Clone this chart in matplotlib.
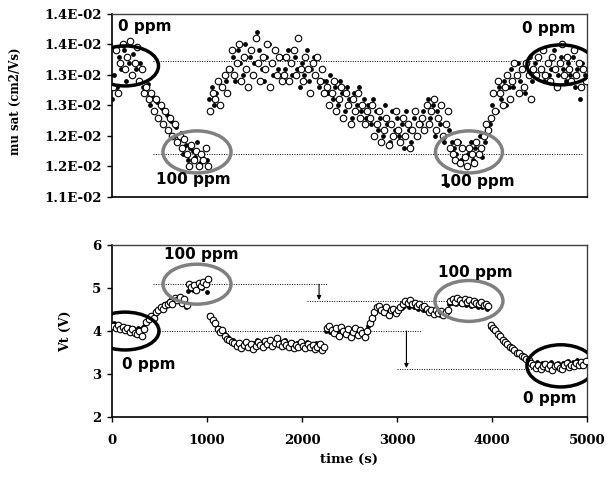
import numpy as np
import matplotlib
matplotlib.use("Agg")
import matplotlib.pyplot as plt
from matplotlib.patches import Ellipse

# top panel: mu sat, in units of 1e-2 cm2/Vs, one reading every 25 s
mu_filled = [
    1.26, 1.30, 1.28, 1.33, 1.31, 1.34, 1.29, 1.32, 1.30, 1.335, 1.31, 1.29, 1.32, 1.28,
    1.27, 1.285, 1.25, 1.265, 1.24, 1.255, 1.23, 1.245, 1.22, 1.235, 1.21, 1.225, 1.20, 1.215,
    1.19, 1.205, 1.17, 1.185, 1.16, 1.18, 1.175, 1.165, 1.19, 1.155, 1.17, 1.18, 1.16,
    1.26, 1.28, 1.25, 1.27, 1.29, 1.28, 1.30, 1.29, 1.31,
    1.31, 1.33, 1.29, 1.34, 1.32, 1.30, 1.35, 1.31, 1.33, 1.30, 1.32,
    1.37, 1.34, 1.31, 1.29, 1.33, 1.35, 1.32, 1.30, 1.34, 1.31, 1.33,
    1.33, 1.31, 1.34, 1.32, 1.30, 1.33, 1.31, 1.28, 1.32, 1.30, 1.34, 1.29, 1.31, 1.33, 1.30, 1.28, 1.31, 1.29,
    1.29, 1.27, 1.30, 1.26, 1.28, 1.25, 1.29, 1.27, 1.24, 1.28, 1.26, 1.23, 1.27, 1.25, 1.28, 1.24, 1.26, 1.23,
    1.25, 1.22, 1.26, 1.24, 1.21, 1.23, 1.20, 1.25, 1.22, 1.19, 1.24,
    1.21, 1.23, 1.20, 1.22, 1.18, 1.24, 1.21, 1.19, 1.23, 1.20, 1.22,
    1.22, 1.24, 1.21, 1.26, 1.23, 1.25, 1.20, 1.24, 1.22, 1.25, 1.19, 1.12, 1.21, 1.19,
    1.18, 1.17, 1.19, 1.16, 1.18, 1.15, 1.17, 1.19, 1.16, 1.18, 1.17, 1.20, 1.165, 1.19, 1.21, 1.22,
    1.25, 1.27, 1.24, 1.28, 1.26, 1.29, 1.25, 1.28,
    1.31, 1.28, 1.30, 1.32, 1.29, 1.31, 1.27, 1.30, 1.33, 1.29,
    1.32, 1.30, 1.33, 1.31, 1.29, 1.32, 1.30, 1.31, 1.34, 1.28, 1.30,
    1.33, 1.31, 1.29, 1.32, 1.30, 1.33, 1.28, 1.31, 1.26, 1.32, 1.30,
]
mu_open = [
    1.28, 1.34, 1.27, 1.32, 1.35, 1.31, 1.33, 1.355, 1.30, 1.32, 1.345, 1.29, 1.31, 1.27,
    1.28, 1.26, 1.27, 1.24, 1.26, 1.23, 1.25, 1.22, 1.24, 1.21, 1.23, 1.20, 1.22, 1.19,
    1.20, 1.18, 1.195, 1.17, 1.15, 1.185, 1.16, 1.175, 1.15, 1.17, 1.16, 1.18, 1.15,
    1.24, 1.27, 1.26, 1.29, 1.25, 1.28, 1.30, 1.27, 1.31,
    1.34, 1.30, 1.32, 1.35, 1.29, 1.33, 1.31, 1.28, 1.34, 1.30, 1.36,
    1.32, 1.29, 1.33, 1.31, 1.35, 1.28, 1.32, 1.34, 1.30, 1.33, 1.29,
    1.30, 1.33, 1.29, 1.32, 1.34, 1.30, 1.36, 1.31, 1.29, 1.33, 1.31, 1.27, 1.32, 1.30, 1.33, 1.29, 1.31, 1.27,
    1.28, 1.25, 1.27, 1.29, 1.24, 1.26, 1.28, 1.23, 1.27, 1.25, 1.22, 1.26, 1.24, 1.27, 1.23, 1.25, 1.22, 1.24,
    1.23, 1.25, 1.20, 1.22, 1.24, 1.19, 1.21, 1.23, 1.185, 1.22, 1.20,
    1.24, 1.21, 1.19, 1.23, 1.20, 1.22, 1.18, 1.21, 1.24, 1.20, 1.22,
    1.23, 1.21, 1.25, 1.22, 1.24, 1.26, 1.21, 1.23, 1.25, 1.20, 1.22, 1.24, 1.18, 1.17,
    1.16, 1.19, 1.155, 1.18, 1.165, 1.15, 1.18, 1.17, 1.155, 1.19, 1.17, 1.18, 1.20, 1.22, 1.21, 1.23,
    1.27, 1.24, 1.29, 1.27, 1.25, 1.28, 1.30, 1.26,
    1.29, 1.32, 1.30, 1.27, 1.31, 1.28, 1.32, 1.30, 1.26, 1.31,
    1.30, 1.33, 1.31, 1.34, 1.30, 1.32, 1.29, 1.33, 1.31, 1.28, 1.32,
    1.35, 1.30, 1.33, 1.31, 1.29, 1.34, 1.30, 1.32, 1.28, 1.31, 1.29,
]

# bottom panel: Vt (V), one reading every 25 s
vt_filled = [
    4.15, 4.18, 4.10, 4.14, 4.08, 4.12, 4.05, 4.10, 4.02, 4.06, 4.00, 4.08, 4.04, 4.10,
    4.18, 4.25, 4.32, 4.38, 4.42, 4.48, 4.52, 4.58, 4.62, 4.66, 4.70, 4.74, 4.72, 4.76,
    4.78, 4.70, 4.62, 4.55,
    4.92, 4.98, 4.95, 5.02, 4.98, 5.05, 5.00, 5.08, 4.90,
    4.38, 4.30, 4.22, 4.15, 4.08, 4.00, 3.95, 3.90, 3.85, 3.80, 3.78,
    3.72, 3.68, 3.62, 3.70, 3.66, 3.74, 3.68, 3.62, 3.72, 3.78,
    3.70, 3.65, 3.74, 3.80, 3.72, 3.68, 3.76, 3.70, 3.82, 3.75,
    3.70, 3.78, 3.72, 3.68, 3.74, 3.66, 3.72, 3.70, 3.64, 3.70,
    3.74, 3.66, 3.62, 3.68, 3.72, 3.64, 3.60, 3.66,
    4.00, 4.05, 3.98, 4.04, 3.96, 4.02, 4.06, 3.98, 3.94, 4.00, 4.05, 3.96, 4.00, 3.92, 3.98, 4.02, 3.94, 3.98,
    4.12, 4.25, 4.38, 4.48,
    4.52, 4.46, 4.42, 4.50, 4.44, 4.40, 4.48, 4.42, 4.46, 4.50, 4.54,
    4.58, 4.62, 4.56, 4.60, 4.55, 4.58, 4.52, 4.56, 4.50,
    4.48, 4.45, 4.42, 4.46, 4.40, 4.44, 4.38, 4.42, 4.40, 4.46,
    4.62, 4.66, 4.70, 4.64, 4.68, 4.62, 4.66, 4.60, 4.64, 4.58, 4.62, 4.60, 4.56, 4.60, 4.55, 4.58, 4.52,
    4.10, 4.05, 4.00, 3.95, 3.90,
    3.84, 3.78, 3.72, 3.68, 3.62, 3.58, 3.54, 3.50, 3.46, 3.42, 3.38, 3.35,
    3.30, 3.26, 3.22, 3.28, 3.20, 3.25, 3.18, 3.24, 3.20, 3.28, 3.22, 3.18,
    3.25, 3.20, 3.26, 3.22, 3.30, 3.24, 3.28, 3.22, 3.32, 3.26, 3.30, 3.28,
]
vt_open = [
    4.12, 4.08, 4.15, 4.05, 4.10, 4.02, 4.06, 3.98, 4.04, 3.95, 3.92, 4.00, 3.88, 4.05,
    4.22, 4.28, 4.35, 4.30, 4.45, 4.50, 4.55, 4.52, 4.60, 4.64, 4.68, 4.62, 4.78, 4.72,
    4.80, 4.65, 4.75, 4.60,
    5.10, 5.02, 5.08, 4.95, 5.12, 5.05, 5.15, 5.10, 5.20,
    4.34, 4.25, 4.18, 4.05, 3.98, 4.02, 3.88, 3.82, 3.78, 3.74, 3.72,
    3.66, 3.72, 3.60, 3.68, 3.75, 3.62, 3.70, 3.58, 3.66, 3.74,
    3.68, 3.62, 3.76, 3.70, 3.78, 3.66, 3.72, 3.84, 3.70, 3.66,
    3.74, 3.68, 3.64, 3.72, 3.60, 3.68, 3.62, 3.74, 3.66, 3.60,
    3.70, 3.62, 3.68, 3.58, 3.64, 3.70, 3.56, 3.62,
    4.08, 4.12, 4.02, 3.96, 4.06, 3.88, 4.10, 4.00, 3.92, 4.04, 3.85, 3.98, 4.06, 3.90, 4.02, 3.96, 3.86, 4.00,
    4.18, 4.30, 4.45, 4.55,
    4.58, 4.50, 4.45, 4.55, 4.38, 4.48, 4.52, 4.42, 4.50, 4.56, 4.62,
    4.70, 4.65, 4.72, 4.62, 4.66, 4.58, 4.62, 4.55, 4.58,
    4.52, 4.45, 4.50, 4.40, 4.48, 4.42, 4.46, 4.38, 4.44, 4.50,
    4.70, 4.75, 4.68, 4.78, 4.72, 4.66, 4.74, 4.68, 4.72, 4.64, 4.70, 4.66, 4.62, 4.68, 4.60, 4.64, 4.58,
    4.15, 4.08, 4.02, 3.92, 3.88,
    3.80, 3.74, 3.70, 3.64, 3.60, 3.55, 3.50, 3.48, 3.42, 3.40, 3.36, 3.32,
    3.25, 3.20, 3.15, 3.22, 3.12, 3.18, 3.24, 3.14, 3.20, 3.10, 3.18, 3.22,
    3.15, 3.12, 3.20, 3.25, 3.16, 3.22, 3.18, 3.26, 3.20, 3.28, 3.22, 3.30,
]

# sampling times (s)
step = 25
t_filled = np.arange(len(vt_filled)) * step
t_open = np.arange(len(vt_open)) * step + 12

mu_ticks = [0.011, 0.0115, 0.012, 0.0125, 0.013, 0.0135, 0.014]
mu_tick_labels = ["1.1E-02", "1.2E-02", "1.2E-02", "1.3E-02", "1.3E-02", "1.4E-02", "1.4E-02"]
vt_ticks = [2, 3, 4, 5, 6]
time_ticks = [0, 1000, 2000, 3000, 4000, 5000]

serif = "DejaVu Serif"
sans = "DejaVu Sans"

fig = plt.figure(figsize=(6.12, 4.79), dpi=100)
ax1 = fig.add_axes([0.183, 0.589, 0.776, 0.382])
ax2 = fig.add_axes([0.183, 0.1294, 0.776, 0.359])


def style_axes(ax):
    for side in ["left", "bottom"]:
        ax.spines[side].set_color("black")
        ax.spines[side].set_linewidth(1.2)
    for side in ["top", "right"]:
        ax.spines[side].set_color("#404040")
        ax.spines[side].set_linewidth(1.0)
    ax.tick_params(direction="out", length=3.5, width=1, colors="black")
    for lab in ax.get_xticklabels() + ax.get_yticklabels():
        lab.set_fontfamily(serif)
        lab.set_fontweight("bold")
        lab.set_fontsize(9.5)


def scatter_both(ax, tf, yf, to, yo, scale=1.0):
    ax.scatter(tf, np.array(yf) * scale, s=12, color="black", zorder=3, linewidths=0)
    ax.scatter(to, np.array(yo) * scale, s=22, facecolor="white",
               edgecolor="black", linewidths=0.8, zorder=4)


# ---- top panel
scatter_both(ax1, np.arange(len(mu_filled)) * step, mu_filled,
             np.arange(len(mu_open)) * step + 12, mu_open, scale=0.01)
ax1.set_xlim(0, 5000)
ax1.set_ylim(0.011, 0.014)
ax1.set_yticks(mu_ticks)
ax1.set_yticklabels(mu_tick_labels)
ax1.set_xticks([])
style_axes(ax1)
ax1.tick_params(axis="y", pad=4)

for y in [0.013229, 0.011705]:
    ax1.plot([430, 4960], [y, y], ls=(0, (1, 1.5)), color="black", lw=0.7, zorder=2)

for (cx, cy, w, h, c) in [(137, 0.013147, 705, 0.000656, "black"),
                          (895, 0.011737, 716, 0.000689, "#808080"),
                          (3758, 0.011737, 705, 0.000689, "#808080"),
                          (4726, 0.013164, 716, 0.000656, "black")]:
    ax1.add_patch(Ellipse((cx, cy), w, h, fill=False, edgecolor=c, lw=2.5, zorder=5))

for (x, y, s) in [(347, 0.013786, "0 ppm"), (858, 0.011279, "100 ppm"),
                  (3842, 0.011246, "100 ppm"), (4595, 0.013753, "0 ppm")]:
    ax1.text(x, y, s, ha="center", va="center", fontsize=11, fontweight="bold",
             family=sans, zorder=6)

ax1.set_ylabel("mu sat (cm2/Vs)", family=serif, fontweight="bold", fontsize=8.5)
ax1.yaxis.set_label_coords(-0.189, 0.52)

# ---- bottom panel
scatter_both(ax2, t_filled, vt_filled, t_open, vt_open)
ax2.set_xlim(0, 5000)
ax2.set_ylim(2, 6)
ax2.set_xticks(time_ticks)
ax2.set_yticks(vt_ticks)
style_axes(ax2)
ax2.tick_params(axis="x", pad=9)
ax2.tick_params(axis="y", pad=4)

for (x0, x1, y) in [(430, 2260, 5.09), (2050, 3550, 4.70), (470, 3260, 4.00), (3000, 4450, 3.12)]:
    ax2.plot([x0, x1], [y, y], ls=(0, (1, 1.5)), color="black", lw=0.7, zorder=2)

for (x, y0, y1) in [(2180, 5.09, 4.72), (3100, 4.00, 3.14)]:
    ax2.annotate("", xy=(x, y1), xytext=(x, y0),
                 arrowprops=dict(arrowstyle="-|>", color="black", lw=0.8,
                                 mutation_scale=6, shrinkA=0, shrinkB=0))

for (cx, cy, w, h, c) in [(137, 4.0, 716, 0.88, "black"),
                          (895, 5.09, 716, 0.93, "#808080"),
                          (3758, 4.70, 716, 0.95, "#808080"),
                          (4726, 3.19, 716, 0.98, "black")]:
    ax2.add_patch(Ellipse((cx, cy), w, h, fill=False, edgecolor=c, lw=2.5, zorder=5))

for (x, y, s) in [(942, 5.77, "100 ppm"), (384, 3.21, "0 ppm"),
                  (3821, 5.37, "100 ppm"), (4610, 2.42, "0 ppm")]:
    ax2.text(x, y, s, ha="center", va="center", fontsize=11, fontweight="bold",
             family=sans, zorder=6)

ax2.set_ylabel("Vt (V)", family=serif, fontweight="bold", fontsize=9)
ax2.yaxis.set_label_coords(-0.084, 0.5)
ax2.set_xlabel("time (s)", family=serif, fontweight="bold", fontsize=9.5, labelpad=4)

fig.savefig("out.png", dpi=100)
